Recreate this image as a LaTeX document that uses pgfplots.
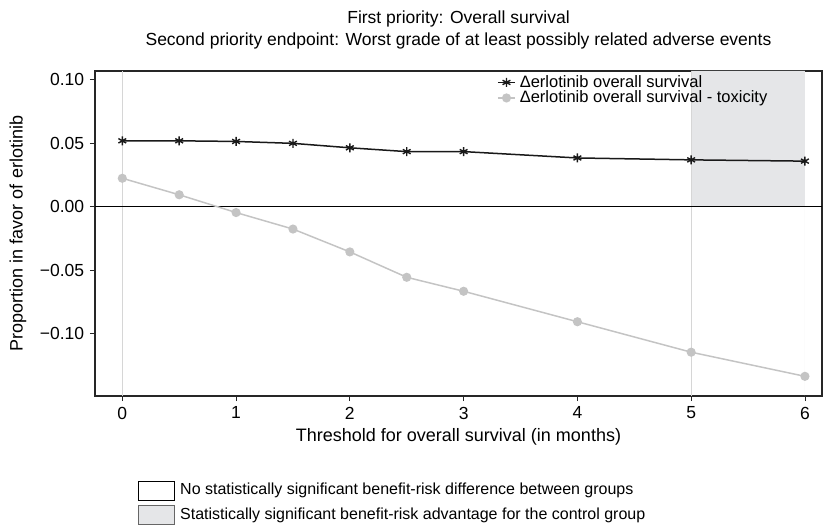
\documentclass[border=0pt]{standalone}
\usepackage{fontspec}
\setmainfont{Liberation Sans}
\usepackage{pgfplots}
\pgfplotsset{compat=1.18}
\definecolor{shade}{HTML}{E5E6E8}
\definecolor{lgray}{HTML}{C4C4C4}
\begin{document}
\fontsize{17}{19}\selectfont
\begin{tikzpicture}[x=1pt,y=1pt]
\path[use as bounding box] (0,0) rectangle (837,527);
\begin{axis}[
  at={(95pt,131pt)}, anchor=south west,
  scale only axis, width=727pt, height=325pt,
  xmin=-0.24, xmax=6.15, ymin=-0.149, ymax=0.107,
  axis line style={line width=1.2pt, black!85},
  xtick={0,1,2,3,4,5,6},
  ytick={-0.10,-0.05,0,0.05,0.10},
  yticklabels={−0.10,−0.05,0.00,0.05,0.10},
  tick align=outside, tick pos=left,
  major tick length=5pt,
  tick style={black!85, line width=0.8pt},
  /pgf/number format/assume math mode=true,
  ticklabel style={font=\fontsize{17.5}{19}\selectfont},
  xlabel={Threshold for overall survival (in months)},
  ylabel={Proportion in favor of erlotinib},
  label style={font=\fontsize{18}{20}\selectfont},
  xlabel style={yshift=2pt},
  ylabel style={yshift=2pt},
  title={First priority: Overall survival\\Second priority endpoint: Worst grade of at least possibly related adverse events},
  title style={align=center, font=\fontsize{17.5}{22}\selectfont, yshift=10pt},
  clip=false,
  legend style={at={(497pt-95pt,527pt-75pt-131pt)}, anchor=north west, draw=none, fill=none,
    font=\fontsize{16.5}{14}\selectfont, row sep=1pt, inner sep=0pt,
    nodes={inner xsep=4pt, inner ysep=0pt}},
  legend cell align=left,
]
\addplot[fill=shade, draw=none, forget plot] coordinates {(5,-0.149) (5,0.107) (6,0.107) (6,-0.149)} \closedcycle;
\addplot[lgray!70, line width=0.6pt, forget plot] coordinates {(0,-0.149) (0,0.107)};
\addplot[lgray!70, line width=0.6pt, forget plot] coordinates {(5,-0.149) (5,0.107)};
\addplot[black, line width=0.9pt, forget plot] coordinates {(-0.24,0) (6.15,0)};
\addplot[black!90, line width=1.5pt, mark=asterisk, mark size=4.5pt, mark options={line width=1.4pt}] coordinates {
(0,0.052) (0.5,0.052) (1,0.0515) (1.5,0.050) (2,0.0465) (2.5,0.0435) (3,0.0435) (4,0.0385) (5,0.037) (6,0.036)};
\addlegendentry{Δerlotinib overall survival}
\addplot[lgray, line width=1.5pt, mark=*, mark size=3.8pt, mark options={fill=lgray, draw=lgray}] coordinates {
(0,0.0225) (0.5,0.0095) (1,-0.0045) (1.5,-0.0175) (2,-0.0355) (2.5,-0.0555) (3,-0.0665) (4,-0.0905) (5,-0.1145) (6,-0.1335)};
\addlegendentry{Δerlotinib overall survival - toxicity}
\end{axis}
\draw[black, line width=0.8pt, fill=white] (138,527-481) rectangle (174,527-500);
\draw[black!60, line width=0.8pt, fill=shade] (138,527-505) rectangle (174,527-524);
\node[anchor=west, font=\fontsize{16}{18}\selectfont, inner sep=0pt] at (180,527-490) {No statistically significant benefit-risk difference between groups};
\node[anchor=west, font=\fontsize{16}{18}\selectfont, inner sep=0pt] at (180,527-515) {Statistically significant benefit-risk advantage for the control group};
\end{tikzpicture}
\end{document}
